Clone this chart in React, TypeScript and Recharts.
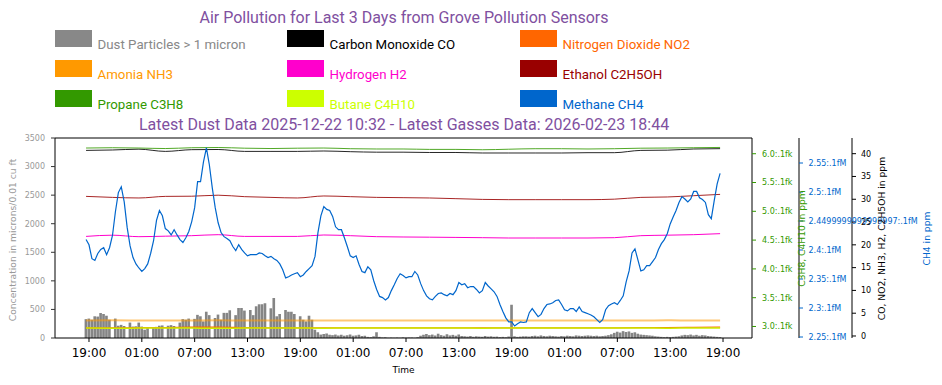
import React from "react";
import { ComposedChart, Bar, Line, XAxis, YAxis, ReferenceLine } from "recharts";

// hours counted from the first 19:00 tick; samples every 20 minutes, from 18:40 to 18:40 three days later
const startHour = -1 / 3;
const stepHours = 1 / 3;

const timeTicks = [0, 6, 12, 18, 24, 30, 36, 42, 48, 54, 60, 66, 72];
const timeLabels = ["19:00", "01:00", "07:00", "13:00", "19:00", "01:00", "07:00", "13:00", "19:00", "01:00", "07:00", "13:00", "19:00"];

const dustTicks = [0, 500, 1000, 1500, 2000, 2500, 3000, 3500];
const c3Ticks = [3.0, 3.5, 4.0, 4.5, 5.0, 5.5, 6.0];
const c3TickLabels = ["3.0", "3.5", "4.0", "4.5", "5.0", "5.5", "6.0"];
const ch4Ticks = [2.25, 2.3, 2.35, 2.4, 2.45, 2.5, 2.55];
const ch4TickLabels = ["2.25", "2.3", "2.35", "2.4", "2.4499999999999997", "2.5", "2.55"];
const ppmTicks = [0, 5, 10, 15, 20, 25, 30, 35, 40];

// dust particles > 1 micron (null = missing reading)
const dust = [
  330, 340, 320, 380, 375, 437, 420, 390, 320, null, 340, 215, 230, 210, null, 270, 200, 205,
  270, 200, 145, 190, null, 185, 195, 215, 220, null, 215, 225, 210, null, 270, 330, 320, 340,
  null, 335, 405, 380, 290, 460, 400, null, 350, 410, 320, 440, 440, 485, null, 400, 525, 525,
  480, null, 490, 400, 555, 590, 590, 610, null, 520, 700, 380, 420, null, 490, 460, 460, 420,
  null, 380, 320, 290, 390, 320, 145, 100, 60, 70, 80, 55, 50, 60, 45, 55, 40, 50,
  60, 40, 45, 55, 35, 40, 20, 15, 30, 100, 20, 10, 15, 5, 8, 5, 10, 5,
  12, 6, 8, 10, 5, 15, 40, 55, 70, 50, 60, 45, 75, 50, 40, 65, 45, 55,
  40, 60, 35, 30, 25, 35, 20, 30, 25, 20, 35, 25, 30, 20, 25, 15, 20, 15,
  25, 580, 30, 20, 25, 30, 30, 25, 35, 40, 30, 45, 35, 30, 40, 35, 30, 25,
  35, 30, 40, 35, 30, 45, 40, 35, 40, 45, 40, 35, 40, 30, 35, 40, 50, 65,
  90, 110, 95, 120, 105, 115, 90, 100, 75, 60, 55, 50, 45, 40, 30, 25, 20, 15,
  20, 15, 20, 25, 30, 45, 55, 50, 60, 45, 55, 40, 50, 45, 35, 30, 25, 20,
  15,
];

// methane CH4
const methane = [
  2.418, 2.409, 2.385, 2.382, 2.394, 2.401, 2.404, 2.392, 2.404, 2.425, 2.466, 2.499, 2.509, 2.483, 2.439, 2.407, 2.387, 2.376,
  2.369, 2.363, 2.368, 2.376, 2.394, 2.416, 2.451, 2.468, 2.459, 2.437, 2.433, 2.426, 2.435, 2.426, 2.418, 2.413, 2.421, 2.432,
  2.449, 2.473, 2.518, 2.518, 2.552, 2.576, 2.547, 2.507, 2.473, 2.447, 2.43, 2.423, 2.42, 2.416, 2.406, 2.399, 2.409, 2.401,
  2.395, 2.39, 2.392, 2.392, 2.392, 2.395, 2.394, 2.39, 2.387, 2.389, 2.385, 2.382, 2.376, 2.366, 2.352, 2.354, 2.357, 2.359,
  2.361, 2.354, 2.357, 2.363, 2.368, 2.373, 2.389, 2.43, 2.459, 2.475, 2.47, 2.468, 2.458, 2.44, 2.435, 2.435, 2.421, 2.406,
  2.39, 2.387, 2.39, 2.375, 2.363, 2.361, 2.371, 2.366, 2.347, 2.332, 2.32, 2.318, 2.314, 2.318, 2.33, 2.34, 2.351, 2.359,
  2.356, 2.352, 2.354, 2.354, 2.363, 2.357, 2.342, 2.33, 2.321, 2.316, 2.314, 2.32, 2.325, 2.326, 2.323, 2.321, 2.325, 2.323,
  2.33, 2.344, 2.34, 2.342, 2.335, 2.337, 2.337, 2.332, 2.326, 2.33, 2.344, 2.338, 2.333, 2.328, 2.32, 2.306, 2.294, 2.283,
  2.276, 2.276, 2.269, 2.273, 2.276, 2.275, 2.276, 2.292, 2.299, 2.292, 2.285, 2.289, 2.299, 2.306, 2.307, 2.309, 2.313, 2.314,
  2.306, 2.297, 2.295, 2.299, 2.299, 2.294, 2.302, 2.294, 2.292, 2.29, 2.288, 2.285, 2.28, 2.275, 2.28, 2.297, 2.304, 2.307,
  2.309, 2.306, 2.313, 2.321, 2.345, 2.364, 2.395, 2.402, 2.383, 2.364, 2.366, 2.373, 2.373, 2.38, 2.387, 2.401, 2.411, 2.418,
  2.428, 2.445, 2.457, 2.468, 2.482, 2.492, 2.488, 2.483, 2.488, 2.501, 2.501, 2.49, 2.487, 2.482, 2.461, 2.454, 2.485, 2.514,
  2.532,
];

// slower gas readings, every 3 hours (every 9th sample)
const carbonMonoxide = [40.72, 40.81, 40.99, 40.5, 40.88, 40.92, 40.5, 40.5, 40.5, 40.59, 40.44, 40.33, 40.33, 40.26, 40.26, 40.15, 40.15, 40.15, 40.15, 40.22, 40.22, 40.72, 40.77, 41.03, 41.1];
const nitrogenDioxide = [1.8, 1.78, 1.82, 1.85, 1.92, 1.95, 1.85, 1.8, 1.8, 1.78, 1.8, 1.8, 1.78, 1.8, 1.8, 1.8, 1.78, 1.8, 1.8, 1.8, 1.8, 1.82, 1.85, 1.9, 1.95];
const ammonia = [3.42, 3.43, 3.42, 3.41, 3.42, 3.43, 3.42, 3.42, 3.41, 3.42, 3.42, 3.42, 3.41, 3.42, 3.42, 3.42, 3.42, 3.41, 3.42, 3.42, 3.42, 3.42, 3.43, 3.42, 3.42];
const hydrogen = [21.85, 22.12, 21.79, 21.9, 22.01, 22.23, 21.85, 21.85, 21.85, 22.16, 22.01, 21.79, 21.72, 21.68, 21.63, 21.57, 21.5, 21.5, 21.5, 21.5, 21.57, 22.01, 22.12, 22.23, 22.45];
const ethanol = [30.63, 30.41, 30.28, 30.63, 30.67, 30.89, 30.57, 30.41, 30.28, 30.72, 30.57, 30.41, 30.35, 30.28, 30.13, 29.97, 29.91, 29.91, 29.91, 29.91, 30.02, 30.41, 30.5, 30.78, 31.07];
const propane = [6.099, 6.104, 6.099, 6.09, 6.104, 6.108, 6.096, 6.09, 6.096, 6.099, 6.087, 6.082, 6.082, 6.075, 6.075, 6.069, 6.078, 6.087, 6.087, 6.082, 6.087, 6.096, 6.099, 6.104, 6.109];
const butane = [2.972, 2.97, 2.972, 2.974, 2.972, 2.97, 2.972, 2.973, 2.972, 2.971, 2.972, 2.972, 2.973, 2.972, 2.972, 2.971, 2.972, 2.972, 2.972, 2.973, 2.972, 2.972, 2.971, 2.972, 2.972];

const legendItems = [
  { name: "Dust Particles > 1 micron", color: "#888888" },
  { name: "Carbon Monoxide CO", color: "#000000" },
  { name: "Nitrogen Dioxide NO2", color: "#ff6600" },
  { name: "Amonia NH3", color: "#ff9900" },
  { name: "Hydrogen H2", color: "#ff00cc" },
  { name: "Ethanol C2H5OH", color: "#990000" },
  { name: "Propane C3H8", color: "#339900" },
  { name: "Butane C4H10", color: "#ccff00" },
  { name: "Methane CH4", color: "#0066cc" },
];

const rows = methane.map((ch4, k) => {
  const row: Record<string, number | null> = { t: startHour + k * stepHours, dust: dust[k], ch4 };
  if (k % 9 === 0) {
    const j = k / 9;
    row.co = carbonMonoxide[j];
    row.no2 = nitrogenDioxide[j];
    row.nh3 = ammonia[j];
    row.h2 = hydrogen[j];
    row.eth = ethanol[j];
    row.c3h8 = propane[j];
    row.c4h10 = butane[j];
  }
  return row;
});

const PURPLE = "#80509f";
const tickFont = "DejaVu Sans, sans-serif";

function VLabel({ x, y, text, color }: { x: number; y: number; text: string; color: string }) {
  return (
    <text x={x} y={y} transform={`rotate(-90 ${x} ${y})`} textAnchor="middle" dominantBaseline="central" fill={color} fontSize={9.2} fontFamily={tickFont}>
      {text}
    </text>
  );
}

export default function App() {
  const cols = [55, 287, 520];
  return (
    <div style={{ position: "absolute", left: 0, top: 0, width: 942, height: 385, background: "#fff" }}>
      <ComposedChart width={942} height={385} data={rows} margin={{ top: 138, right: 0, bottom: 0, left: 0 }}>
        <XAxis
          dataKey="t"
          type="number"
          domain={[-3.86, 75.29]}
          allowDataOverflow
          ticks={timeTicks}
          interval={0}
          tickFormatter={(v: number) => timeLabels[timeTicks.indexOf(v)]}
          height={47}
          tickSize={4}
          tickMargin={6}
          tick={{ fill: "#000", fontSize: 12, fontFamily: tickFont }}
          axisLine={{ stroke: "#000" }}
          tickLine={{ stroke: "#000" }}
        />
        <YAxis
          yAxisId="dust"
          orientation="left"
          width={55}
          domain={[0, 3500]}
          allowDataOverflow
          ticks={dustTicks}
          interval={0}
          tickSize={4}
          tickMargin={6}
          tick={{ fill: "#999", fontSize: 8, fontFamily: tickFont }}
          axisLine={{ stroke: "#000" }}
          tickLine={{ stroke: "#333" }}
        />
        <YAxis
          yAxisId="c3"
          orientation="right"
          width={47}
          domain={[2.8, 6.273]}
          allowDataOverflow
          ticks={c3Ticks}
          interval={0}
          tickFormatter={(v: number) => `${c3TickLabels[c3Ticks.indexOf(v)]}:.1fk`}
          tickSize={4}
          tickMargin={6}
          tick={{ fill: "#339900", fontSize: 8, fontFamily: tickFont }}
          axisLine={{ stroke: "#000" }}
          tickLine={{ stroke: "#339900" }}
        />
        <YAxis
          yAxisId="ch4"
          orientation="right"
          width={53}
          domain={[2.2483, 2.5931]}
          allowDataOverflow
          ticks={ch4Ticks}
          interval={0}
          tickFormatter={(v: number) => `${ch4TickLabels[ch4Ticks.indexOf(v)]}:.1fM`}
          tickSize={4}
          tickMargin={5.5}
          tick={{ fill: "#0066cc", fontSize: 8, fontFamily: tickFont }}
          axisLine={{ stroke: "#000" }}
          tickLine={{ stroke: "#0066cc" }}
        />
        <YAxis
          yAxisId="ppm"
          orientation="right"
          width={90}
          domain={[-0.44, 43.44]}
          allowDataOverflow
          ticks={ppmTicks}
          interval={0}
          tickSize={4}
          tickMargin={5}
          tick={{ fill: "#000", fontSize: 8, fontFamily: tickFont }}
          axisLine={{ stroke: "#000" }}
          tickLine={{ stroke: "#000" }}
        />
        <ReferenceLine yAxisId="dust" y={3500} stroke="#000" />
        <Bar yAxisId="dust" dataKey="dust" fill="#858585" barSize={3.6} isAnimationActive={false} />
        <Line yAxisId="ppm" dataKey="co" type="monotone" connectNulls stroke="#000" strokeOpacity={0.85} strokeWidth={1} dot={false} isAnimationActive={false} />
        <Line yAxisId="ppm" dataKey="no2" type="monotone" connectNulls stroke="#ff6600" strokeWidth={1.3} dot={false} isAnimationActive={false} />
        <Line yAxisId="ppm" dataKey="nh3" type="monotone" connectNulls stroke="#ff9900" strokeOpacity={0.55} strokeWidth={2} dot={false} isAnimationActive={false} />
        <Line yAxisId="ppm" dataKey="h2" type="monotone" connectNulls stroke="#ff00cc" strokeWidth={1} dot={false} isAnimationActive={false} />
        <Line yAxisId="ppm" dataKey="eth" type="monotone" connectNulls stroke="#990000" strokeOpacity={0.85} strokeWidth={1} dot={false} isAnimationActive={false} />
        <Line yAxisId="c3" dataKey="c3h8" type="monotone" connectNulls stroke="#339900" strokeOpacity={0.85} strokeWidth={1} dot={false} isAnimationActive={false} />
        <Line yAxisId="c3" dataKey="c4h10" type="monotone" connectNulls stroke="#ccee00" strokeWidth={1.5} dot={false} isAnimationActive={false} />
        <Line yAxisId="ch4" dataKey="ch4" type="linear" stroke="#0066cc" strokeWidth={1.2} dot={false} isAnimationActive={false} />
      </ComposedChart>

      <svg width={942} height={385} style={{ position: "absolute", left: 0, top: 0, pointerEvents: "none" }}>
        <text x={404} y={22.5} textAnchor="middle" fill={PURPLE} fontSize={16} fontFamily="Roboto, sans-serif">
          Air Pollution for Last 3 Days from Grove Pollution Sensors
        </text>
        {legendItems.map((item, i) => {
          const x = cols[i % 3];
          const row = Math.floor(i / 3);
          return (
            <g key={item.name}>
              <rect x={x} y={30 + row * 30} width={37} height={17} fill={item.color} />
              <text x={x + 42.5} y={48.7 + row * 30} fill={item.color} fontSize={13.3} fontFamily="Roboto, sans-serif">
                {item.name}
              </text>
            </g>
          );
        })}
        <text x={404} y={130} textAnchor="middle" fill={PURPLE} fontSize={16} fontFamily="Roboto, sans-serif">
          Latest Dust Data 2025-12-22 10:32 - Latest Gasses Data: 2026-02-23 18:44
        </text>
        <VLabel x={12} y={240} text="Concentration in microns/0.01 cu ft" color="#999" />
        <VLabel x={801.7} y={238.5} text="C3H8, C4H10 in ppm" color="#339900" />
        <VLabel x={881.7} y={238.5} text="CO, NO2, NH3, H2, C2H5OH in ppm" color="#000" />
        <VLabel x={926.7} y={238.5} text="CH4 in ppm" color="#0066cc" />
        <text x={403.5} y={373.3} textAnchor="middle" fill="#000" fontSize={9} fontFamily={tickFont}>
          Time
        </text>
      </svg>
    </div>
  );
}
